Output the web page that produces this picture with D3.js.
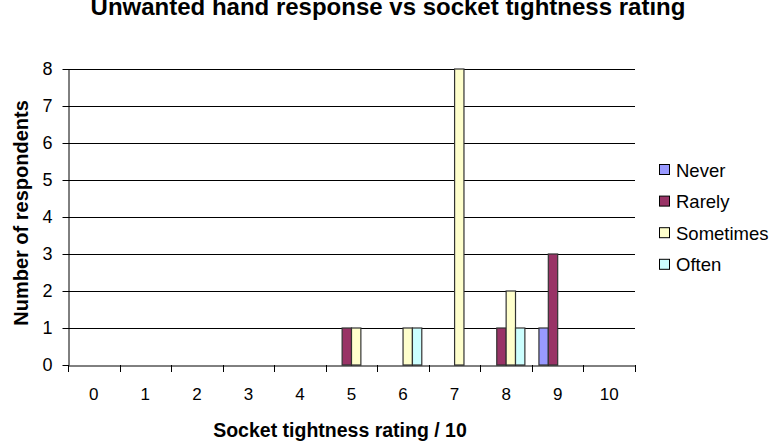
<!DOCTYPE html>
<html><head><meta charset="utf-8">
<script src="https://cdn.jsdelivr.net/npm/d3@7"></script>
<style>body{margin:0;background:#fff}svg{display:block}text{font-family:"Liberation Sans",Arial,sans-serif}</style>
</head><body><svg id="c" width="783" height="446"></svg>
<script>
const categories = ["0","1","2","3","4","5","6","7","8","9","10"];
const seriesNames = ["Never","Rarely","Sometimes","Often"];
const seriesColors = ["#9999FF","#993366","#FFFFCC","#CCFFFF"];
const never     = [0,0,0,0,0,0,0,0,0,1,0];
const rarely    = [0,0,0,0,0,1,0,0,1,3,0];
const sometimes = [0,0,0,0,0,1,1,8,2,0,0];
const often     = [0,0,0,0,0,0,1,0,1,0,0];
const yTicks = [0,1,2,3,4,5,6,7,8];
const values = [never, rarely, sometimes, often];

const FONT = "Liberation Sans, Arial, sans-serif";
const svg = d3.select("#c");
const L=68,R=635,T=69,B=365;
const x0 = d3.scaleBand().domain(categories).range([L,R]);
const y = d3.scaleLinear().domain([0,8]).range([B,T]);

// gridlines
svg.append("g").selectAll("line").data(yTicks.slice(1)).join("line")
  .attr("x1",L).attr("x2",R).attr("y1",d=>Math.round(y(d))+0.5).attr("y2",d=>Math.round(y(d))+0.5)
  .attr("stroke","#000").attr("stroke-width",1);

// bars
const bw = x0.bandwidth()/5.5;
categories.forEach((c,ci)=>{
  values.forEach((arr,si)=>{
    const v = arr[ci];
    if(v>0){
      const xs = x0(c)+x0.bandwidth()/2 - 2*bw + si*bw;
      svg.append("rect").attr("x",xs).attr("width",bw).attr("y",y(v)).attr("height",y(0)-y(v))
        .attr("fill",seriesColors[si]).attr("stroke","#333").attr("stroke-width",1.2);
    }
  });
});

// y axis
const ya = svg.append("g").attr("transform",`translate(${L+0.5},0)`)
  .call(d3.axisLeft(y).tickValues(yTicks).tickSize(6).tickSizeOuter(0).tickPadding(10));
ya.attr("font-size",null).attr("font-family",null);
ya.select(".domain").attr("stroke","#000");
ya.selectAll("line").attr("stroke","#000");
ya.selectAll("text").style("font-size","18px").attr("fill","#000").style("font-family",FONT).attr("dy","0.3em");

// x axis
const xa = svg.append("g").attr("transform",`translate(0,${Math.round(y(0))+0.5})`)
  .call(d3.axisBottom(x0).tickSize(0).tickPadding(22));
xa.attr("font-size",null).attr("font-family",null);
xa.select(".domain").attr("stroke","#000");
xa.selectAll("text").style("font-size","17px").attr("fill","#000").style("font-family",FONT);
svg.append("g").selectAll("line").data(d3.range(categories.length+1)).join("line")
  .attr("x1",i=>Math.round(L+i*x0.bandwidth())+0.5).attr("x2",i=>Math.round(L+i*x0.bandwidth())+0.5)
  .attr("y1",Math.round(y(0))).attr("y2",Math.round(y(0))+7).attr("stroke","#000");

// titles
svg.append("text").attr("x",388).attr("y",15).attr("text-anchor","middle")
  .style("font-size","24px").attr("font-weight","bold").text("Unwanted hand response vs socket tightness rating");
svg.append("text").attr("x",340).attr("y",437).attr("text-anchor","middle")
  .style("font-size","19.5px").attr("font-weight","bold").text("Socket tightness rating / 10");
svg.append("text").attr("transform","translate(28,213) rotate(-90)").attr("text-anchor","middle")
  .style("font-size","20px").attr("font-weight","bold").text("Number of respondents");

// legend
const lg = svg.append("g").selectAll("g").data(seriesNames).join("g")
  .attr("transform",(d,i)=>`translate(659,${170+i*31.6})`);
lg.append("rect").attr("x",0.5).attr("y",-5.5).attr("width",10).attr("height",10)
  .attr("fill",(d,i)=>seriesColors[i]).attr("stroke","#000");
lg.append("text").attr("x",17).attr("y",6.5).style("font-size","18.5px").text(d=>d);
</script></body></html>
